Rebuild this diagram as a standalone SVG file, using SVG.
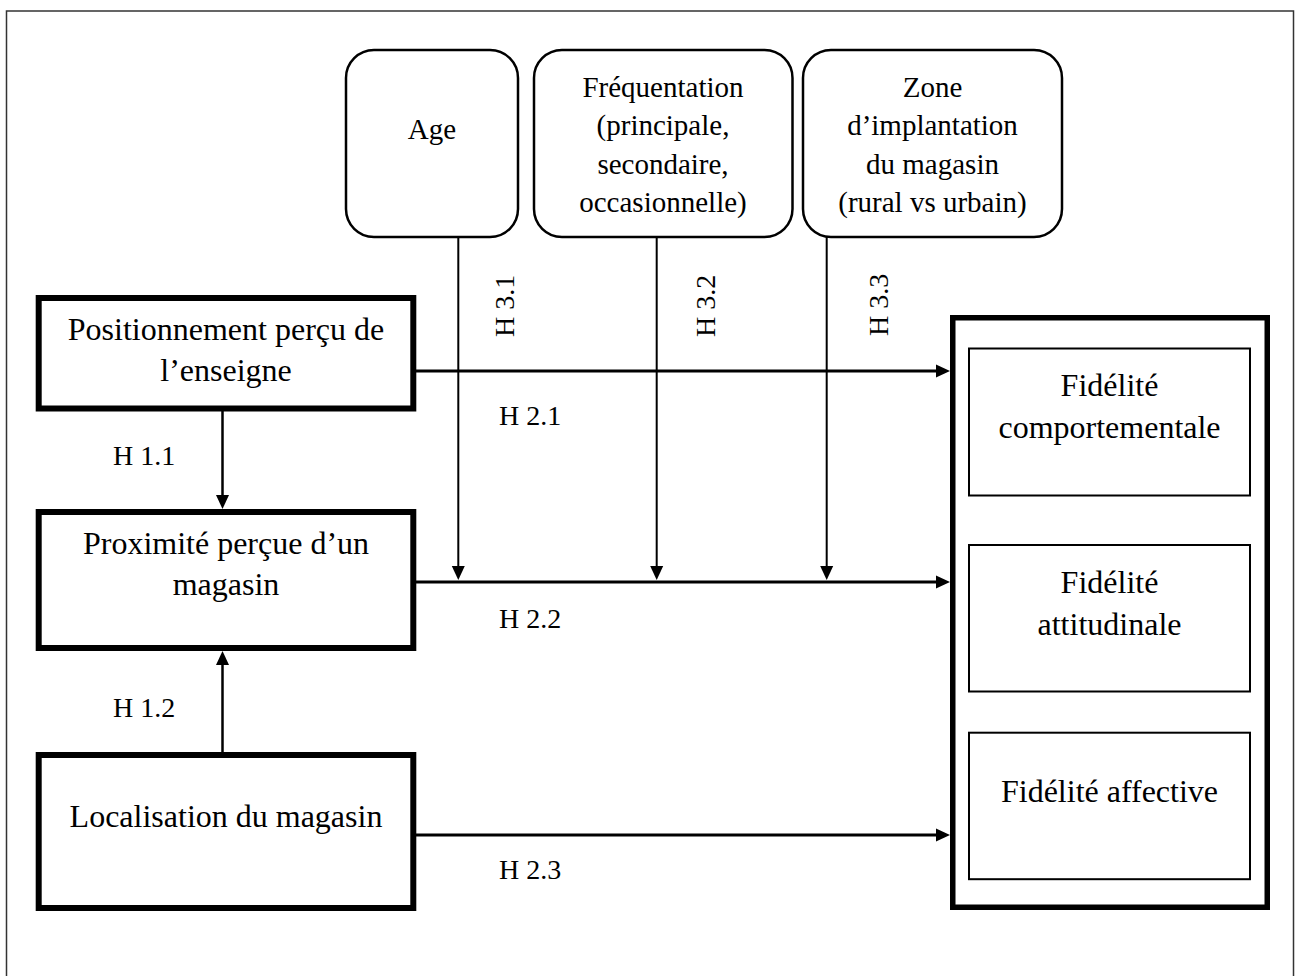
<svg xmlns="http://www.w3.org/2000/svg" width="1299" height="976" viewBox="0 0 1299 976">
<defs>
<style>
text{font-family:"Liberation Serif","Times New Roman",serif;fill:#000;}
.t32{font-size:32px;text-anchor:middle;}
.t29{font-size:29px;text-anchor:middle;}
.h{font-size:28px;}
.thick{fill:#fff;stroke:#000;stroke-width:6;}
.round{fill:#fff;stroke:#000;stroke-width:2.5;}
.inner{fill:#fff;stroke:#000;stroke-width:2;}
.conn{stroke:#000;fill:none;}
</style>
<marker id="ah" markerUnits="userSpaceOnUse" markerWidth="14" markerHeight="14" viewBox="0 0 14 14" refX="8" refY="7" orient="auto">
<path d="M0,0.5 L14,7 L0,13.5 z" fill="#000"/>
</marker>
</defs>
<rect x="0" y="0" width="1299" height="976" fill="#fff"/>
<rect id="frame" x="6.5" y="11" width="1287" height="1000" fill="none" stroke="#333" stroke-width="1.5"/>

<g id="connectors">
<line class="conn" x1="222.5" y1="411" x2="222.5" y2="503" stroke-width="2.5" marker-end="url(#ah)"/>
<line class="conn" x1="222.5" y1="752" x2="222.5" y2="657" stroke-width="2.5" marker-end="url(#ah)"/>
<line class="conn" x1="416" y1="371" x2="944" y2="371" stroke-width="3" marker-end="url(#ah)"/>
<line class="conn" x1="416" y1="582" x2="944" y2="582" stroke-width="3" marker-end="url(#ah)"/>
<line class="conn" x1="416" y1="835" x2="944" y2="835" stroke-width="3" marker-end="url(#ah)"/>
<line class="conn" x1="458.3" y1="237" x2="458.3" y2="574" stroke-width="2" marker-end="url(#ah)"/>
<line class="conn" x1="656.7" y1="237" x2="656.7" y2="574" stroke-width="2" marker-end="url(#ah)"/>
<line class="conn" x1="826.7" y1="237" x2="826.7" y2="574" stroke-width="2" marker-end="url(#ah)"/>
<text class="h" x="113" y="465">H 1.1</text>
<text class="h" x="113" y="717">H 1.2</text>
<text class="h" x="499" y="425">H 2.1</text>
<text class="h" x="499" y="628">H 2.2</text>
<text class="h" x="499" y="879">H 2.3</text>
<text class="h" transform="translate(514,337) rotate(-90)">H 3.1</text>
<text class="h" transform="translate(715,337) rotate(-90)">H 3.2</text>
<text class="h" transform="translate(888,336) rotate(-90)">H 3.3</text>
</g>

<g id="age">
<rect class="round" x="346" y="50" width="172" height="187" rx="28" ry="28"/>
<text class="t29" x="432" y="139">Age</text>
</g>
<g id="frequentation">
<rect class="round" x="534" y="50" width="258.5" height="187" rx="28" ry="28"/>
<text class="t29" x="663" y="96.5">Fréquentation</text>
<text class="t29" x="663" y="135">(principale,</text>
<text class="t29" x="663" y="173.5">secondaire,</text>
<text class="t29" x="663" y="212">occasionnelle)</text>
</g>
<g id="zone">
<rect class="round" x="803" y="50" width="259" height="187" rx="28" ry="28"/>
<text class="t29" x="932.5" y="96.5">Zone</text>
<text class="t29" x="932.5" y="135">d’implantation</text>
<text class="t29" x="932.5" y="173.5">du magasin</text>
<text class="t29" x="932.5" y="212">(rural vs urbain)</text>
</g>

<g id="positionnement">
<rect class="thick" x="38.7" y="298" width="374.6" height="110.5"/>
<text class="t32" x="226" y="339.5">Positionnement perçu de</text>
<text class="t32" x="226" y="381">l’enseigne</text>
</g>
<g id="proximite">
<rect class="thick" x="38.7" y="512" width="374.6" height="136"/>
<text class="t32" x="226" y="553.5">Proximité perçue d’un</text>
<text class="t32" x="226" y="595">magasin</text>
</g>
<g id="localisation">
<rect class="thick" x="38.7" y="755" width="374.6" height="153"/>
<text class="t32" x="226" y="827">Localisation du magasin</text>
</g>

<g id="fidelite">
<rect x="952.75" y="317.75" width="314.5" height="589.5" fill="#fff" stroke="#000" stroke-width="5.5"/>
<g id="fid-comportementale">
<rect class="inner" x="969" y="348.5" width="281" height="147"/>
<text class="t32" x="1109.5" y="396">Fidélité</text>
<text class="t32" x="1109.5" y="438.3">comportementale</text>
</g>
<g id="fid-attitudinale">
<rect class="inner" x="969" y="545" width="281" height="146.5"/>
<text class="t32" x="1109.5" y="592.7">Fidélité</text>
<text class="t32" x="1109.5" y="634.5">attitudinale</text>
</g>
<g id="fid-affective">
<rect class="inner" x="969" y="732.7" width="281" height="146.5"/>
<text class="t32" x="1109.5" y="801.7">Fidélité affective</text>
</g>
</g>
</svg>
